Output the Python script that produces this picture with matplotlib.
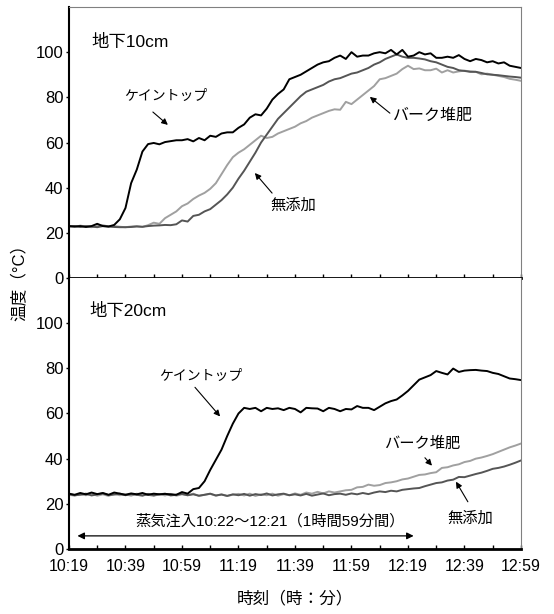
import matplotlib
matplotlib.use('Agg')
import matplotlib.pyplot as plt

plt.rcParams['font.family'] = ['Liberation Sans', 'Noto Sans CJK JP', 'DejaVu Sans']

# minutes after 10:19, every 2 min
minutes = list(range(0, 161, 2))
tick_labels = ['10:19', '10:39', '10:59', '11:19', '11:39', '11:59', '12:19', '12:39', '12:59']

# depth 10cm
cane_10 = [23, 22.8, 23, 22.6, 23, 24, 23, 22.8, 23.5, 26,
           31, 42, 48, 56, 59.3, 59.8, 59.2, 60.2, 60.6, 61,
           61, 61.5, 60.5, 62, 61, 63, 62.5, 64, 64.5, 64.5,
           66.5, 68, 71, 72.5, 72, 75, 79, 81.5, 83.5, 88,
           89, 90, 91.5, 93, 94.5, 95.5, 96, 97.5, 98.5, 97,
           100, 98, 98.5, 98.5, 99.5, 100, 99.5, 101, 99, 101,
           98, 98.5, 100, 99, 99.5, 97.5, 97.5, 98, 97.5, 98.7,
           97, 96, 97, 96.5, 95.5, 96, 95, 95.5, 94, 93.5,
           93]
bark_10 = [23, 22.6, 23.2, 22.8, 22.5, 23, 23.4, 22.8, 23, 22.7,
           22.5, 22.8, 23, 22.6, 23.4, 24.5, 24, 26.5, 28, 29.5,
           31.8, 33, 35, 36.5, 37.7, 39.5, 42, 46, 50, 53.5,
           55.5, 57, 59, 61, 63, 62, 62.5, 64, 65, 66,
           67, 68.5, 69.5, 71, 72, 73, 74, 74.7, 74.5, 78,
           77, 79, 81, 83, 85, 88, 88.5, 89.5, 90.5, 92.5,
           94, 92.5, 92.8, 92, 92, 92.7, 91, 92, 91, 91.5,
           91.8, 91.5, 91.3, 90.2, 90.5, 90, 89.5, 89, 88.2, 87.8,
           87.3]
none_10 = [22.8, 23, 22.6, 23, 22.8, 22.5, 23, 22.8, 22.6, 22.5,
           22.5, 22.6, 22.8, 22.7, 23, 23.2, 23.3, 23.5, 23.4, 23.8,
           25.5, 25, 27.5, 28, 29.5, 30.5, 32.5, 34.5, 37, 40,
           44, 47.5, 51.5, 55.5, 60, 63.5, 67, 70.5, 73, 75.5,
           78, 80.5, 82.5, 83.5, 84.5, 85.5, 87, 88, 88.5, 89.5,
           90.5, 91, 92, 93, 94.5, 95.5, 97, 98, 99, 98,
           97.5, 97.5, 97.2, 96.8, 96, 95.5, 94.5, 93.5, 93, 92,
           91.7, 91.3, 91.3, 90.8, 90.2, 90, 89.8, 89.5, 89.2, 89,
           88.7]

# depth 20cm
cane_20 = [24.5, 24, 24.8, 24.2, 25, 24.3, 24.8, 24, 25, 24.5,
           24, 24.6, 24.2, 24.8, 24, 24.5, 24.2, 24.4, 24.2, 24,
           25.2, 24.5, 26.5, 27, 30, 35, 39.5, 44, 50, 55.5,
           60, 62.5, 62, 62.5, 61, 62.5, 62, 62.3, 61.5, 62.5,
           62, 60.5, 62.5, 62.3, 62.2, 61, 62.5, 62, 61, 62,
           61.8, 63.3, 62.5, 62.5, 61.5, 63, 64.5, 65.5, 66.2, 68,
           70, 72.5, 75, 76, 77, 78.8, 78, 77.3, 79.9, 78.4,
           79, 79.2, 79.3, 79, 78.8, 78, 77.5, 76.5, 75.5, 75.2,
           74.8]
bark_20 = [24, 23.6, 24.3, 23.8, 24.5, 23.6, 24.2, 23.5, 24.4, 23.8,
           24.2, 23.6, 24.5, 23.8, 24, 23.5, 24.3, 23.7, 24.4, 23.6,
           24.2, 23.8, 24.5, 23.5, 24, 24.4, 23.6, 24.2, 23.5, 24,
           24.4, 23.7, 24.5, 23.5, 24.2, 23.8, 24.5, 23.6, 24.3, 23.8,
           24.6, 24, 25, 24.5, 25.3, 24.6, 25.5, 25, 25.5, 26,
           26.2, 27.3, 27.5, 28.5, 28, 28.3, 29.2, 29.5, 30, 30.8,
           31.2, 32, 32.8, 33, 33.6, 34, 35.9, 36.2, 37, 37.5,
           38.5, 39, 40, 40.5, 41.2, 42, 43, 44, 45, 45.8,
           46.7]
none_20 = [24.3, 23.8, 24, 24.5, 23.7, 24.2, 24.6, 23.9, 24.1, 24.5,
           23.8, 24.3, 24, 23.6, 24.4, 23.8, 24.2, 24.5, 23.7, 24,
           24.4, 23.8, 24.2, 23.6, 24, 24.5, 23.7, 24.1, 23.5, 24.2,
           23.8, 24.4, 23.6, 24.3, 23.9, 24.6, 23.7, 24.2, 24.5, 23.8,
           24.2, 23.7, 24.4, 23.6, 24.1, 24.6, 23.8, 24.3, 24.5, 24,
           24.6, 24.2, 24.8, 24.3, 25, 25.5, 25.2, 25.8, 25.5, 26.2,
           26.5, 26.8, 27, 27.8, 28.5, 29.2, 29.5, 30.3, 30.7, 31.9,
           31.8, 32.5, 33.2, 33.8, 34.6, 35.5, 35.9, 36.5, 37.3, 38.2,
           39.2]

c_cane, c_bark, c_none = '#000000', '#a0a0a0', '#555555'
jp = ['Noto Sans CJK JP']

fig = plt.figure(figsize=(5.54, 6.14), dpi=100)
ax1 = fig.add_axes([0.1245, 0.5472, 0.8159, 0.4414])
ax2 = fig.add_axes([0.1245, 0.1059, 0.8159, 0.4413])

for ax, cane, bark, none in [(ax1, cane_10, bark_10, none_10), (ax2, cane_20, bark_20, none_20)]:
    ax.plot(minutes, bark, color=c_bark, lw=1.4)
    ax.plot(minutes, none, color=c_none, lw=1.4)
    ax.plot(minutes, cane, color=c_cane, lw=1.4)
    ax.set_xlim(0, 160)
    ax.set_ylim(0, 120)
    ax.set_yticks(range(0, 101, 20))
    ax.set_xticks(range(0, 161, 10))
    ax.tick_params(axis='x', direction='in', length=3, width=1, pad=7)
    ax.tick_params(axis='y', direction='out', length=2, width=1, labelsize=12, pad=2)
    for s in ['top', 'right']:
        ax.spines[s].set_color('#808080')
        ax.spines[s].set_linewidth(0.8)
    ax.spines['left'].set_linewidth(1.5)
    ax.spines['bottom'].set_linewidth(2)

ax1.tick_params(axis='x', labelbottom=False)
ax2.spines['top'].set_visible(False)
ax2.set_xticklabels([tick_labels[i // 2] if i % 2 == 0 else '' for i in range(17)], fontsize=11.5)

arrow = dict(arrowstyle='-|>', color='black', lw=0.8, mutation_scale=9, shrinkA=0, shrinkB=0)

ax1.text(7.8, 104.5, '地下10cm', fontsize=12.5, va='center', ha='left')
ax1.annotate('', xy=(35, 67.8), xytext=(29.7, 73.5), arrowprops=arrow)
ax1.text(34.3, 80.5, 'ケイントップ', fontsize=10, ha='center', va='center', family=jp)
ax1.annotate('', xy=(106.5, 80.2), xytext=(113.6, 73), arrowprops=arrow)
ax1.text(114.7, 72.2, 'バーク堆肥', fontsize=11.5, ha='left', va='center', family=jp)
ax1.annotate('', xy=(65.8, 46.5), xytext=(71.9, 37.6), arrowprops=arrow)
ax1.text(79.3, 32.3, '無添加', fontsize=11, ha='center', va='center', family=jp)

ax2.text(7.1, 105.3, '地下20cm', fontsize=12.5, va='center', ha='left')
ax2.annotate('', xy=(53.5, 58.7), xytext=(44.6, 71.6), arrowprops=arrow)
ax2.text(46.7, 76.8, 'ケイントップ', fontsize=10, ha='center', va='center', family=jp)
ax2.annotate('', xy=(128.5, 36.9), xytext=(126, 40.4), arrowprops=arrow)
ax2.text(125, 47, 'バーク堆肥', fontsize=11, ha='center', va='center', family=jp)
ax2.annotate('', xy=(137, 29.8), xytext=(141.2, 20.9), arrowprops=arrow)
ax2.text(142, 13.8, '無添加', fontsize=11, ha='center', va='center', family=jp)

ax2.annotate('', xy=(3, 5.8), xytext=(122, 5.8),
             arrowprops=dict(arrowstyle='<|-|>', color='black', lw=0.9, mutation_scale=10, shrinkA=0, shrinkB=0))
ax2.text(23.4, 12.4, '蒸気注入10:22～12:21（1時間59分間）', fontsize=11, ha='left', va='center')

fig.text(0.036, 0.547, '温度（°C）', rotation=90, ha='center', va='center', fontsize=12)
fig.text(0.532, 0.026, '時刻（時：分）', ha='center', va='center', fontsize=12)

fig.savefig('out.png', dpi=100)
